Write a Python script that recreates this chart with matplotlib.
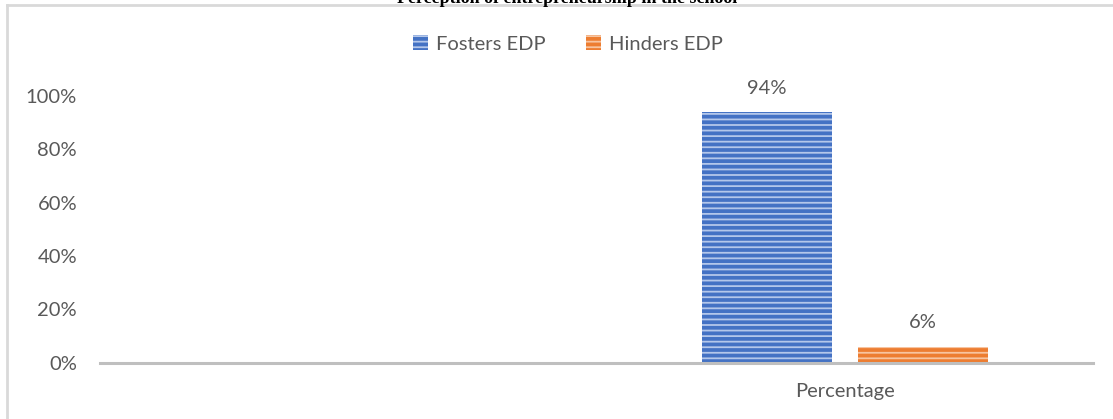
import matplotlib
matplotlib.use("Agg")
import matplotlib.pyplot as plt
import numpy as np
from matplotlib.ticker import PercentFormatter
from matplotlib.lines import Line2D
from matplotlib.patches import Rectangle

categories = ["", "Percentage"]
series_names = ["Fosters EDP", "Hinders EDP"]
fosters = [np.nan, 0.94]
hinders = [np.nan, 0.06]
yticks = [0, 0.2, 0.4, 0.6, 0.8, 1.0]
title = "Perception of entrepreneurship in the school"

plt.rcParams['font.family'] = ['Lato', 'DejaVu Sans']
txt = '#595959'
fs = 14.5

W, H = 1113, 419
fig = plt.figure(figsize=(W / 100, H / 100), dpi=100)
ax = fig.add_axes([100 / W, (H - 362.5) / H, 993 / W, 266.5 / H])

x = np.arange(len(categories))
bw = 0.262
off = 0.157
plt.rcParams['hatch.linewidth'] = 1.3
b1 = ax.bar(x - off, fosters, bw, color='#4472C4', edgecolor='#b4c7ea', linewidth=0, hatch='---', label=series_names[0])
b2 = ax.bar(x + off, hinders, bw, color='#ED7D31', edgecolor='#f7c4a0', linewidth=0, hatch='---', label=series_names[1])

for bars, vals in ((b1, fosters), (b2, hinders)):
    for rect, v in zip(bars, vals):
        if np.isnan(v):
            continue
        ax.annotate(f"{v:.0%}", (rect.get_x() + rect.get_width() / 2, v),
                    xytext=(0, 11), textcoords='offset points', ha='center', va='bottom',
                    fontsize=fs, color=txt)

ax.set_xlim(-0.5, 1.5)
ax.set_ylim(0, 1.0)
ax.set_yticks(yticks)
ax.yaxis.set_major_formatter(PercentFormatter(1.0, decimals=0))
ax.set_xticks(x)
ax.set_xticklabels(categories)
ax.tick_params(axis='both', length=0, labelsize=fs, labelcolor=txt)
ax.tick_params(axis='y', pad=16.5)
ax.tick_params(axis='x', pad=15)
for s in ax.spines.values():
    s.set_visible(False)
ax.axhline(0, color='#bfbfbf', linewidth=2.2, zorder=3, clip_on=False)

# chart frame (only left and top edges visible in the crop)
fig.add_artist(Line2D([7 / W, 7 / W], [0, 1 - 5 / H], transform=fig.transFigure, color='#d9d9d9', linewidth=2))
fig.add_artist(Line2D([7 / W, 1], [1 - 5 / H, 1 - 5 / H], transform=fig.transFigure, color='#d9d9d9', linewidth=2))

fig.text(567 / W, 1 - 3 / H, title, ha='center', va='baseline', fontsize=13,
         fontweight='bold', family=['Liberation Serif', 'DejaVu Serif'], color='black')

handles = [Rectangle((0, 0), 1, 1, facecolor='#4472C4', edgecolor='#b4c7ea', linewidth=0, hatch='---'),
           Rectangle((0, 0), 1, 1, facecolor='#ED7D31', edgecolor='#f7c4a0', linewidth=0, hatch='---')]
leg = fig.legend(handles, series_names, loc='center', bbox_to_anchor=(568 / W, 1 - 44 / H), ncol=2,
                 frameon=False, fontsize=fs, handlelength=0.75, handleheight=0.75,
                 handletextpad=0.4, columnspacing=2.0, labelcolor=txt)

fig.savefig("out.png", dpi=100)
